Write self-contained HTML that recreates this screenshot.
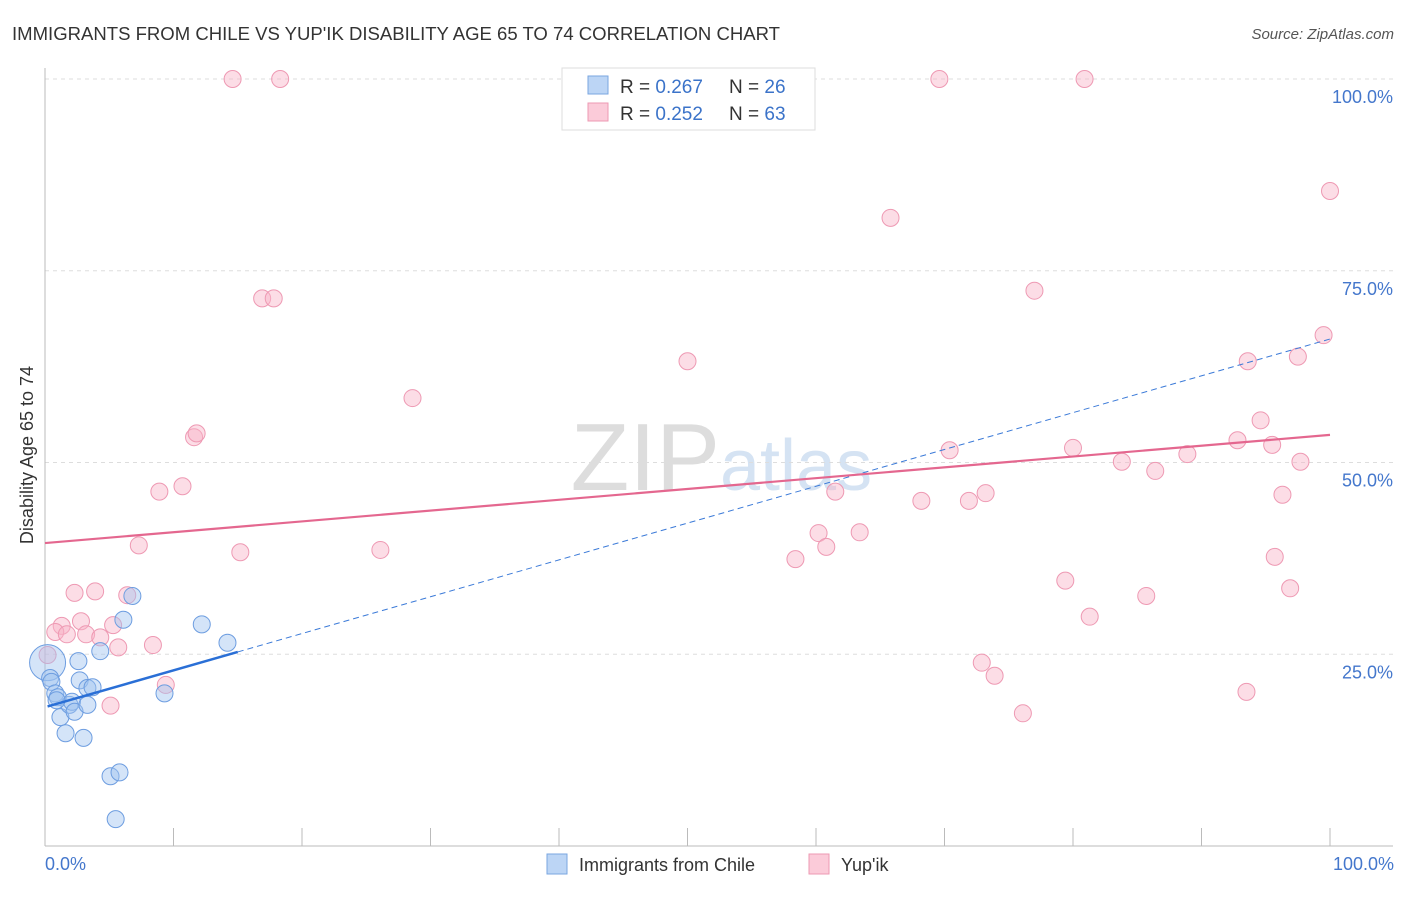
<!DOCTYPE html>
<html><head><meta charset="utf-8"><style>
body{margin:0;background:#fff;font-family:"Liberation Sans",sans-serif;}
svg text{font-family:"Liberation Sans",sans-serif;}
</style></head><body>
<svg width="1406" height="892" xmlns="http://www.w3.org/2000/svg">
<text x="12" y="40" font-size="18" fill="#333" textLength="768" lengthAdjust="spacingAndGlyphs">IMMIGRANTS FROM CHILE VS YUP'IK DISABILITY AGE 65 TO 74 CORRELATION CHART</text>
<text x="1394" y="39" font-size="15" fill="#555" text-anchor="end" font-style="italic">Source: ZipAtlas.com</text>
<text x="720" y="490" font-size="96" fill="#ddd" text-anchor="end" font-family="Liberation Serif">ZIP</text>
<text x="720" y="490" font-size="72" fill="#d5e3f3">atlas</text>
<g id="grid"></g>
<g id="axes"></g>
<g id="pts"></g>
<g id="lines"></g>
<text transform="translate(33,455) rotate(-90)" font-size="18" fill="#333" text-anchor="middle">Disability Age 65 to 74</text>
<text x="45" y="870" font-size="18" fill="#4477cc">0.0%</text>
<text x="1394" y="870" font-size="18" fill="#4477cc" text-anchor="end">100.0%</text>
<g>
<rect x="562" y="68" width="253" height="62" fill="#fff" stroke="#ddd"/>
<rect x="588" y="76" width="20" height="18" fill="#bcd5f5" stroke="#7aa6e0"/>
<rect x="588" y="103" width="20" height="18" fill="#fbcbd9" stroke="#ee99b3"/>
<text x="620" y="93" font-size="19" fill="#333">R = <tspan fill="#3b73c9">0.267</tspan></text>
<text x="729" y="93" font-size="19" fill="#333">N = <tspan fill="#3b73c9">26</tspan></text>
<text x="620" y="120" font-size="19" fill="#333">R = <tspan fill="#3b73c9">0.252</tspan></text>
<text x="729" y="120" font-size="19" fill="#333">N = <tspan fill="#3b73c9">63</tspan></text>
</g>
<g>
<rect x="547" y="854" width="20" height="20" fill="#bcd5f5" stroke="#7aa6e0"/>
<text x="579" y="871" font-size="18" fill="#333">Immigrants from Chile</text>
<rect x="809" y="854" width="20" height="20" fill="#fbcbd9" stroke="#ee99b3"/>
<text x="841" y="871" font-size="18" fill="#333">Yup'ik</text>
</g>
</svg>
<script>
const yTicks=[25,50,75,100];
const yTickLabels=["25.0%","50.0%","75.0%","100.0%"];
const blueX=[0.2,0.4,0.5,0.8,1.0,1.2,1.6,1.9,2.1,2.3,2.6,2.7,3.0,3.3,3.7,4.3,5.1,5.8,5.5,6.1,6.8,9.3,12.2,14.2,0.9,3.3];
const blueY=[23.9,21.9,21.4,19.9,19.4,16.8,14.7,18.4,18.8,17.5,24.1,21.6,14.1,20.6,20.7,25.4,9.1,9.6,3.5,29.5,32.6,19.9,28.9,26.5,19.0,18.4];
const pinkX=[14.6,18.3,69.6,80.9,100,65.8,16.9,17.8,77.0,99.5,50.0,93.6,97.5,28.6,94.6,11.6,11.8,70.4,80.0,92.8,95.5,88.9,83.8,86.4,97.7,8.9,10.7,61.5,68.2,71.9,73.2,96.3,60.2,63.4,60.8,58.4,7.3,15.2,26.1,95.7,79.4,85.7,96.9,81.3,2.3,3.9,6.4,2.8,1.3,0.8,1.7,3.2,4.3,5.3,5.7,8.4,0.2,9.4,5.1,72.9,73.9,76.1,93.5];
const pinkY=[100,100,100,100,85.4,81.9,71.4,71.4,72.4,66.6,63.2,63.2,63.8,58.4,55.5,53.3,53.8,51.6,51.9,52.9,52.3,51.1,50.1,48.9,50.1,46.2,46.9,46.2,45.0,45.0,46.0,45.8,40.8,40.9,39.0,37.4,39.2,38.3,38.6,37.7,34.6,32.6,33.6,29.9,33.0,33.2,32.7,29.3,28.7,27.9,27.6,27.6,27.2,28.8,25.9,26.2,24.9,21.0,18.3,23.9,22.2,17.3,20.1];
const blueLine=[18.1,66.1];
const pinkLine=[39.5,53.6];
const NS="http://www.w3.org/2000/svg";
const X=v=>45+v*12.85, Y=v=>846-v*7.67;
function mk(t,a,p){const e=document.createElementNS(NS,t);for(const k in a)e.setAttribute(k,a[k]);p.appendChild(e);return e;}
const grid=document.getElementById('grid'),axes=document.getElementById('axes'),pts=document.getElementById('pts'),lines=document.getElementById('lines');
yTicks.forEach((t,i)=>{
 const l=mk('line',{x1:45,x2:1393,y1:Y(t),y2:Y(t),stroke:'#ddd','stroke-dasharray':'4,4'},grid);
 
 
 const tx=mk('text',{x:1393,y:Y(t)+24,'font-size':18,fill:'#4477cc','text-anchor':'end'},grid);
 tx.textContent=yTickLabels[i];
 
 
});
const ax=mk('line',{x1:45,x2:45,y1:68,y2:846,stroke:'#bbb'},axes);


const bx=mk('line',{x1:45,x2:1393,y1:846,y2:846,stroke:'#bbb'},axes);


for(let i=1;i<=10;i++){
 const t=mk('line',{x1:X(i*10),x2:X(i*10),y1:828,y2:846,stroke:'#bbb'},axes);
 
 
}
pinkX.forEach((x,i)=>{
 const c=mk('circle',{cx:X(x),cy:Y(pinkY[i]),r:8.5,fill:'rgba(248,180,200,0.45)',stroke:'#ee99b3','stroke-width':1},pts);
 
 
});
blueX.forEach((x,i)=>{
 const c=mk('circle',{cx:X(x),cy:Y(blueY[i]),r:i==0?18:8.5,fill:'rgba(160,195,240,0.45)',stroke:'#6d9de0','stroke-width':1},pts);
 
 
});
const bl=v=>blueLine[0]+(blueLine[1]-blueLine[0])*v/100;
const d=mk('line',{x1:X(15),y1:Y(bl(15)),x2:X(100),y2:Y(bl(100)),stroke:'#3b7ad8','stroke-width':1,'stroke-dasharray':'6,4'},lines);


const s=mk('line',{x1:X(0.2),y1:Y(bl(0.2)),x2:X(15),y2:Y(bl(15)),stroke:'#2a6fd6','stroke-width':2.5},lines);


const p=mk('line',{x1:X(0),y1:Y(pinkLine[0]),x2:X(100),y2:Y(pinkLine[1]),stroke:'#e4678f','stroke-width':2.2},lines);


</script>
</body></html>
